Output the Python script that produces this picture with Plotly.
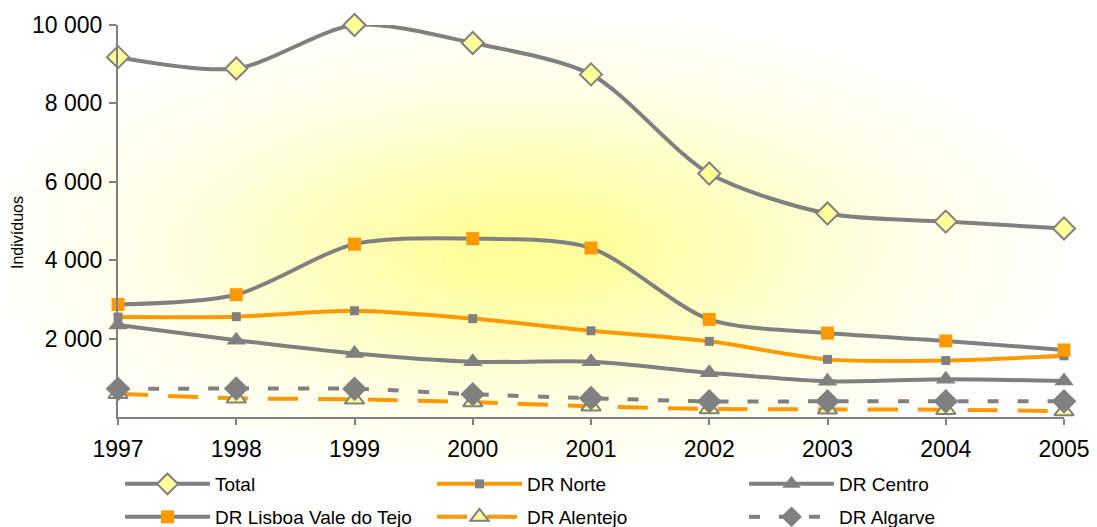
import base64

import plotly.graph_objects as go

years = [1997, 1998, 1999, 2000, 2001, 2002, 2003, 2004, 2005]

total = [9180, 8890, 10000, 9540, 8740, 6210, 5190, 4985, 4810]
dr_norte = [2550, 2560, 2710, 2510, 2200, 1930, 1470, 1440, 1560]
dr_centro = [2350, 1960, 1620, 1410, 1410, 1130, 910, 960, 920]
dr_lisboa = [2870, 3120, 4410, 4550, 4310, 2490, 2140, 1940, 1710]
dr_alentejo = [590, 480, 450, 380, 275, 205, 195, 185, 150]
dr_algarve = [720, 725, 720, 580, 480, 400, 400, 400, 400]

y_ticks = [2000, 4000, 6000, 8000, 10000]

GREY = "#808080"
ORANGE = "#FF9900"
PALE = "#FFFF99"

# the page body has an 8px margin, so the figure is a bit smaller than the window
W, H = 1089, 519

# radial yellow glow behind the chart (Excel-style gradient fill)
svg = (
    '<svg xmlns="http://www.w3.org/2000/svg" width="1097" height="467" '
    'viewBox="0 0 1097 467" preserveAspectRatio="none">'
    '<defs><radialGradient id="g" cx="0.48" cy="0.53" r="0.52">'
    '<stop offset="0" stop-color="#FFFF99"/>'
    '<stop offset="0.15" stop-color="#FFFD9E"/>'
    '<stop offset="0.65" stop-color="#FFFFE6"/>'
    '<stop offset="1" stop-color="#FFFFFF"/>'
    '</radialGradient></defs>'
    '<rect width="1097" height="467" fill="url(#g)"/></svg>'
)
bg_src = "data:image/svg+xml;base64," + base64.b64encode(svg.encode()).decode()

fig = go.Figure()

fig.add_trace(go.Scatter(
    x=years, y=total, name="Total", mode="lines+markers", legend="legend",
    line=dict(color=GREY, width=4, shape="spline", smoothing=0.8),
    marker=dict(symbol="diamond", size=17, color=PALE, line=dict(color=GREY, width=2)),
))
fig.add_trace(go.Scatter(
    x=years, y=dr_norte, name="DR Norte", mode="lines+markers", legend="legend",
    line=dict(color=ORANGE, width=4, shape="spline", smoothing=0.8),
    marker=dict(symbol="square", size=9, color=GREY),
))
fig.add_trace(go.Scatter(
    x=years, y=dr_centro, name="DR Centro", mode="lines+markers", legend="legend",
    line=dict(color=GREY, width=4, shape="spline", smoothing=0.8),
    marker=dict(symbol="triangle-up", size=17, color=GREY),
))
fig.add_trace(go.Scatter(
    x=years, y=dr_lisboa, name="DR Lisboa Vale do Tejo", mode="lines+markers", legend="legend2",
    line=dict(color=GREY, width=4, shape="spline", smoothing=0.8),
    marker=dict(symbol="square", size=13, color=ORANGE),
))
fig.add_trace(go.Scatter(
    x=years, y=dr_alentejo, name="DR Alentejo", mode="lines+markers", legend="legend2",
    line=dict(color=ORANGE, width=4, dash="30px,20px", shape="spline", smoothing=0.8),
    marker=dict(symbol="triangle-up", size=17, color=PALE, line=dict(color=GREY, width=2)),
))
fig.add_trace(go.Scatter(
    x=years, y=dr_algarve, name="DR Algarve", mode="lines+markers", legend="legend2",
    line=dict(color=GREY, width=4, dash="11px,19px", shape="spline", smoothing=0.8),
    marker=dict(symbol="diamond", size=19, color=GREY),
))
fig.update_traces(cliponaxis=False)

legend_style = dict(
    orientation="h", xref="container", yref="container",
    x=112 / W, xanchor="left", yanchor="middle",
    entrywidth=212, font=dict(size=19), bgcolor="white",
    itemwidth=85,
)

fig.update_layout(
    width=W, height=H,
    margin=dict(l=110, r=33, t=17, b=110, autoexpand=False),
    paper_bgcolor="white",
    plot_bgcolor="rgba(0,0,0,0)",
    font=dict(family="Liberation Sans, Arial, sans-serif", color="black"),
    separators=", ",
    showlegend=True,
    legend=dict(legend_style, y=(H - 476) / H),
    legend2=dict(legend_style, y=(H - 509) / H),
    images=[dict(
        source=bg_src, xref="paper", yref="paper",
        x=-118 / 946, y=417 / 392, sizex=1097 / 946, sizey=467 / 392,
        xanchor="left", yanchor="top", sizing="stretch", layer="below",
    )],
    # y title sits a little below the middle of the axis, as in the original
    annotations=[dict(
        text="Indivíduos", textangle=-90, showarrow=False,
        xref="paper", yref="paper", x=-100 / 946, y=(417 - 233) / 392,
        xanchor="center", yanchor="middle", font=dict(size=16),
    )],
)

fig.update_xaxes(
    range=[1997, 2005], tickvals=years, ticktext=[str(y) for y in years],
    showgrid=False, zeroline=False,
    showline=True, linecolor=GREY, linewidth=2,
    ticks="outside", ticklen=6, tickwidth=2, tickcolor=GREY,
    tickfont=dict(size=23), ticklabelstandoff=4,
)
fig.update_yaxes(
    range=[0, 10000], tickvals=y_ticks, tickformat=",d",
    showgrid=False, zeroline=False,
    showline=True, linecolor=GREY, linewidth=2,
    ticks="outside", ticklen=7, tickwidth=2, tickcolor=GREY,
    tickfont=dict(size=23), ticklabelstandoff=2,
)

fig.write_html("out.html")
